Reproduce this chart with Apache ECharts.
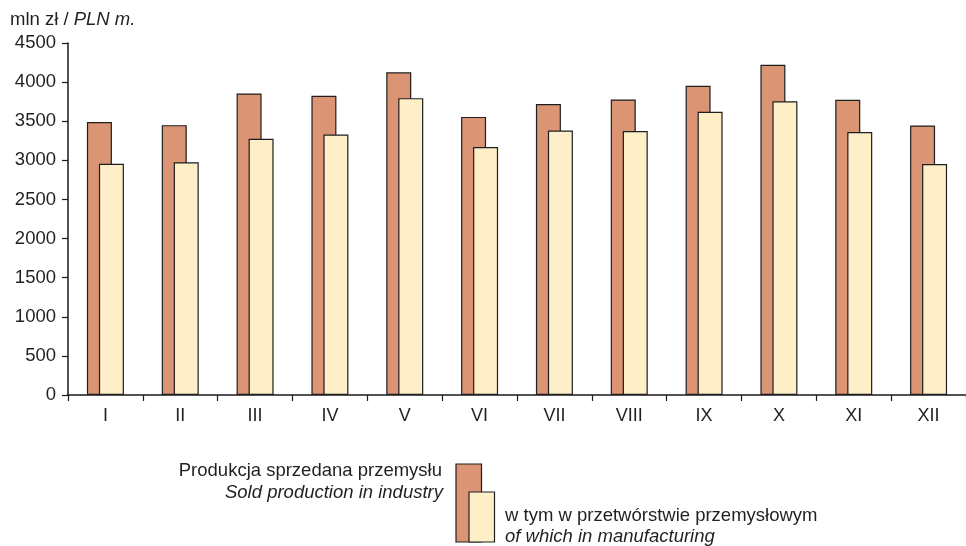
<!DOCTYPE html>
<html>
<head>
<meta charset="utf-8">
<title>Produkcja sprzedana przemysłu</title>
<script src="https://cdn.jsdelivr.net/npm/echarts@6/dist/echarts.min.js"></script>
<style>
  html, body { margin: 0; padding: 0; background: #ffffff; }
  #chart { width: 966px; height: 546px; }
</style>
</head>
<body>
<div id="chart"></div>
<script>
// Months (Roman numerals)
const months = ['I', 'II', 'III', 'IV', 'V', 'VI', 'VII', 'VIII', 'IX', 'X', 'XI', 'XII'];

// Sold production in industry, mln zł
const soldIndustry = [3490, 3450, 3855, 3825, 4125, 3555, 3720, 3778, 3952, 4222, 3773, 3446];

// of which in manufacturing, mln zł
const manufacturing = [2955, 2975, 3276, 3331, 3795, 3170, 3382, 3374, 3620, 3756, 3361, 2953];

// Value axis ticks
const yMin = 0, yMax = 4500, yStep = 500;

const FONT = '"Liberation Sans", Arial, sans-serif';
const TEXT = '#231f20';
const DARK = '#db9574';
const LIGHT = '#feefc8';
const EDGE = '#1e1e1e';

const chart = echarts.init(document.getElementById('chart'), null, { renderer: 'canvas' });

chart.setOption({
  animation: false,
  backgroundColor: '#ffffff',
  grid: { left: 68, right: -8, top: 43, bottom: 151, containLabel: false },
  xAxis: {
    type: 'category',
    data: months,
    boundaryGap: true,
    axisLine: { show: true, lineStyle: { color: '#1a1a1a', width: 1.5 } },
    axisTick: { show: true, alignWithLabel: false, length: 6, lineStyle: { color: '#1a1a1a', width: 1.2 } },
    axisLabel: { color: TEXT, fontFamily: FONT, fontSize: 18, margin: 12 },
    splitLine: { show: false }
  },
  yAxis: {
    type: 'value',
    min: yMin,
    max: yMax,
    interval: yStep,
    axisLine: { show: true, lineStyle: { color: '#1a1a1a', width: 1.5 } },
    axisTick: { show: true, inside: false, length: 6, lineStyle: { color: '#1a1a1a', width: 1.2 } },
    axisLabel: { color: TEXT, fontFamily: FONT, fontSize: 18.5, margin: 12, formatter: v => String(v) },
    splitLine: { show: false }
  },
  series: [
    {
      name: 'Produkcja sprzedana przemysłu',
      type: 'bar',
      data: soldIndustry,
      barWidth: 25,
      barGap: '-52%',
      itemStyle: { color: DARK, borderColor: EDGE, borderWidth: 1.2 }
    },
    {
      name: 'w tym w przetwórstwie przemysłowym',
      type: 'bar',
      data: manufacturing,
      barWidth: 25,
      barGap: '-52%',
      itemStyle: { color: LIGHT, borderColor: EDGE, borderWidth: 1.2 }
    }
  ],
  graphic: [
    // unit label above the value axis
    {
      type: 'text', x: 10, y: 20,
      style: {
        text: 'mln zł / {i|PLN m.}',
        fill: TEXT, font: '18.5px ' + FONT, verticalAlign: 'middle',
        rich: { i: { fontStyle: 'italic', fontSize: 18.5, fontFamily: FONT, fill: TEXT } }
      }
    },
    // legend swatches
    {
      type: 'rect', shape: { x: 456, y: 464, width: 25.5, height: 78 },
      style: { fill: DARK, stroke: EDGE, lineWidth: 1.2 }
    },
    {
      type: 'rect', shape: { x: 469, y: 492, width: 25.5, height: 50 },
      style: { fill: LIGHT, stroke: EDGE, lineWidth: 1.2 }
    },
    // legend texts
    {
      type: 'text', x: 442, y: 471,
      style: { text: 'Produkcja sprzedana przemysłu', fill: TEXT, font: '18.5px ' + FONT, align: 'right', verticalAlign: 'middle' }
    },
    {
      type: 'text', x: 443, y: 493,
      style: { text: 'Sold production in industry', fill: TEXT, font: 'italic 18.5px ' + FONT, align: 'right', verticalAlign: 'middle' }
    },
    {
      type: 'text', x: 505, y: 516,
      style: { text: 'w tym w przetwórstwie przemysłowym', fill: TEXT, font: '18.5px ' + FONT, align: 'left', verticalAlign: 'middle' }
    },
    {
      type: 'text', x: 505, y: 537,
      style: { text: 'of which in manufacturing', fill: TEXT, font: 'italic 18.5px ' + FONT, align: 'left', verticalAlign: 'middle' }
    }
  ]
});
</script>
</body>
</html>
